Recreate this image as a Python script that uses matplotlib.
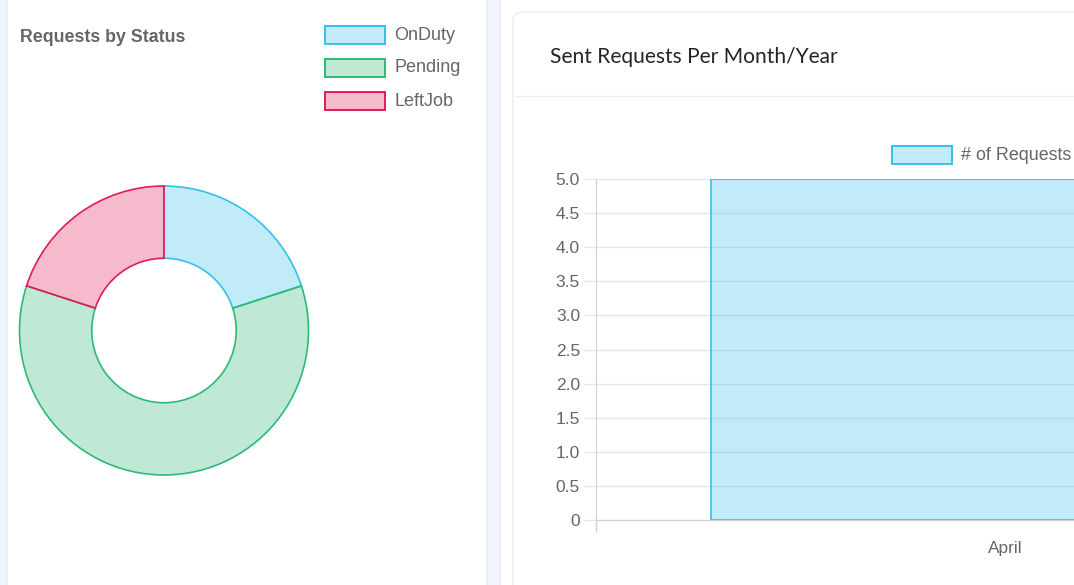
import matplotlib
matplotlib.use("Agg")
import matplotlib.pyplot as plt
from matplotlib.patches import FancyBboxPatch, Rectangle
from matplotlib.ticker import FixedLocator, FuncFormatter

# ---------------- data ----------------
status_labels = ["OnDuty", "Pending", "LeftJob"]
status_values = [1, 3, 1]
status_edges = ["#34c0eb", "#2db977", "#e11c55"]

months = ["April"]
requests = [5]
series_name = "# of Requests"
bar_edge = "#34c0eb"

donut_title = "Requests by Status"
bar_title = "Sent Requests Per Month/Year"

W, H = 1074, 585
plt.rcParams["font.family"] = ["Liberation Sans", "DejaVu Sans"]

fig = plt.figure(figsize=(W / 100, H / 100), dpi=100)
fig.patch.set_facecolor("#f1f6fc")


def fx(px):
    return px / W


def fy(py):
    return 1 - py / H


def rgba(hexc, a):
    h = hexc.lstrip("#")
    return (int(h[0:2], 16) / 255, int(h[2:4], 16) / 255, int(h[4:6], 16) / 255, a)


# ---------------- background cards (pixel coords) ----------------
bg = fig.add_axes([0, 0, 1, 1], zorder=-10)
bg.set_xlim(0, W)
bg.set_ylim(H, 0)
bg.axis("off")
bg.add_patch(FancyBboxPatch((7, -20), 480, H + 60, boxstyle="round,pad=0,rounding_size=8",
                            facecolor="white", edgecolor="#e6ebf1", linewidth=1))
bg.add_patch(FancyBboxPatch((500, -20), 620, H + 60, boxstyle="round,pad=0,rounding_size=8",
                            facecolor="white", edgecolor="#e6ebf1", linewidth=1))
bg.add_patch(FancyBboxPatch((513, 12), 600, H + 60, boxstyle="round,pad=0,rounding_size=9",
                            facecolor="white", edgecolor="#e9ecef", linewidth=1))
bg.plot([513.5, W], [95.5, 95.5], color="#eceef1", linewidth=1)

# titles
bg.text(20, 37, donut_title, fontsize=12.8, fontweight="bold", color="#666666",
        ha="left", va="center")
bg.text(550, 57, bar_title, fontsize=15.1, color="#212529", ha="left", va="center",
        family=["Lato", "DejaVu Sans"])

# donut legend
for i, (lab, ec) in enumerate(zip(status_labels, status_edges)):
    y0 = 26 + i * 33
    bg.add_patch(Rectangle((325, y0), 60, 18, facecolor=rgba(ec, 0.3), edgecolor=ec, linewidth=1.4))
    bg.text(394, y0 + 9, lab, fontsize=13, color="#666666", ha="left", va="center")

# bar legend
bg.add_patch(Rectangle((892, 146), 60, 18, facecolor=rgba(bar_edge, 0.3), edgecolor=bar_edge, linewidth=1.4))
bg.text(961, 155, series_name, fontsize=12.9, color="#666666", ha="left", va="center")

# ---------------- donut ----------------
cx, cy, R = 164, 330.5, 144.5
box = 150
axd = fig.add_axes([fx(cx - box), fy(cy + box), (2 * box) / W, (2 * box) / H])
wedges, _ = axd.pie(status_values, colors=[rgba(c, 0.3) for c in status_edges],
                    startangle=90, counterclock=False, radius=R,
                    wedgeprops=dict(width=R / 2, linewidth=1.2))
for w, ec in zip(wedges, status_edges):
    w.set_edgecolor(ec)
axd.set_xlim(-box, box)
axd.set_ylim(-box, box)
axd.set_aspect("equal")
axd.axis("off")

# ---------------- bar chart ----------------
x0, x1 = 596, 1414
y0p, y5p = 520, 179
axb = fig.add_axes([fx(x0), fy(y0p), (x1 - x0) / W, (y0p - y5p) / H])
xs = list(range(len(months)))
axb.bar(xs, requests, width=0.72, color=rgba(bar_edge, 0.3), edgecolor=bar_edge,
        linewidth=1.2, zorder=2)
axb.set_xlim(-0.5, len(months) - 0.5)
axb.set_ylim(0, 5)
axb.set_facecolor("none")
axb.set_axisbelow(True)

yt = [i * 0.5 for i in range(11)]
axb.yaxis.set_major_locator(FixedLocator(yt))
axb.yaxis.set_major_formatter(FuncFormatter(lambda v, p: "0" if v == 0 else f"{v:.1f}"))
axb.grid(axis="y", color="#e6e6e6", linewidth=1)
axb.tick_params(axis="y", length=8.5, width=1, color="#e6e6e6", pad=3,
                labelsize=12.5, labelcolor="#666666")

axb.set_xticks(xs)
axb.set_xticklabels(months)
axb.set_xticks([-0.5, len(months) - 0.5], minor=True)
axb.tick_params(axis="x", which="major", length=0, pad=15, labelsize=12.4, labelcolor="#666666")
axb.tick_params(axis="x", which="minor", length=8.5, width=1, color="#d0d0d0")

for s in ["top", "right"]:
    axb.spines[s].set_visible(False)
axb.spines["left"].set_color("#d0d0d0")
axb.spines["bottom"].set_color("#d0d0d0")

fig.savefig("out.png", dpi=100, facecolor=fig.get_facecolor())
